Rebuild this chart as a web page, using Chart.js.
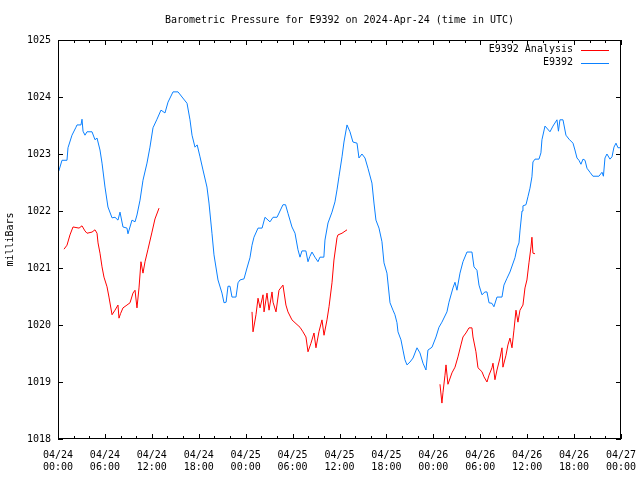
<!DOCTYPE html>
<html>
<head>
<meta charset="utf-8">
<title>Barometric Pressure E9392</title>
<script src="https://cdn.jsdelivr.net/npm/chart.js@4"></script>
<style>
  body { margin: 0; background: #fff; }
  canvas { display: block; }
</style>
</head>
<body>
<canvas id="pressureChart" width="640" height="480"></canvas>
<script>
// hours since 04/24 00:00 UTC, pressure in mBar

const xTickDates = ['04/24', '04/24', '04/24', '04/24', '04/25', '04/25', '04/25',
                    '04/25', '04/26', '04/26', '04/26', '04/26', '04/27'];
const xTickTimes = ['00:00', '06:00', '12:00', '18:00', '00:00', '06:00', '12:00',
                    '18:00', '00:00', '06:00', '12:00', '18:00', '00:00'];

const stationHours = [
  0.1, 0.51, 1.15, 1.28, 1.79, 2.3, 2.43, 2.94, 3.07, 3.2, 3.45, 3.71, 4.35, 4.73, 4.99,
  5.37, 5.63, 6.01, 6.39, 6.91, 7.29, 7.67, 7.93, 8.31, 8.82, 8.95, 9.46, 9.85, 10.1,
  10.49, 10.87, 11.38, 11.76, 12.15, 12.66, 13.17, 13.68, 14.07, 14.71, 15.35, 15.86,
  16.5, 16.88, 17.14, 17.52, 17.8, 18.16, 18.54, 19.05, 19.31, 19.69, 19.95, 20.46,
  20.97, 21.23, 21.5, 21.74, 22.0, 22.25, 22.76, 23.02, 23.27, 23.79, 24.17, 24.55,
  24.81, 25.06, 25.58, 26.1, 26.47, 27.11, 27.5, 28.01, 28.77, 29.1, 29.41, 29.92,
  30.31, 30.69, 30.95, 31.2, 31.7, 31.97, 32.2, 32.48, 32.86, 33.25, 33.5, 34.0, 34.14,
  34.53, 35.04, 35.42, 35.68, 35.93, 36.32, 36.57, 36.96, 37.34, 37.72, 38.24, 38.49,
  38.87, 39.26, 39.64, 40.15, 40.41, 40.66, 41.05, 41.43, 41.69, 42.07, 42.46, 42.84,
  43.09, 43.35, 43.48, 43.86, 44.12, 44.37, 44.63, 45.01, 45.4, 45.91, 46.29, 46.68,
  47.06, 47.31, 47.83, 48.34, 48.72, 49.1, 49.74, 50.0, 50.51, 50.77, 51.02, 51.41,
  51.79, 52.3, 52.7, 52.94, 53.2, 53.58, 53.84, 54.22, 54.6, 54.86, 55.12, 55.5, 55.75,
  56.14, 56.78, 57.03, 57.42, 57.8, 58.44, 58.7, 58.95, 59.08, 59.34, 59.46, 59.85,
  60.1, 60.36, 60.61, 60.74, 61.0, 61.51, 61.76, 61.89, 62.28, 62.92, 63.3, 63.81,
  64.0, 64.19, 64.58, 64.96, 65.35, 65.86, 66.11, 66.37, 66.62, 66.88, 67.14, 67.4,
  67.65, 68.03, 68.41, 69.18, 69.57, 69.75, 69.95, 70.2, 70.59, 70.85, 71.1, 71.36,
  71.61, 71.87
];
const stationValues = [
  1022.70, 1022.89, 1022.89, 1023.11, 1023.33, 1023.47, 1023.51, 1023.51, 1023.61,
  1023.40, 1023.33, 1023.39, 1023.39, 1023.25, 1023.28, 1023.07, 1022.84, 1022.42,
  1022.07, 1021.88, 1021.89, 1021.84, 1021.98, 1021.72, 1021.70, 1021.60, 1021.84,
  1021.81, 1021.93, 1022.19, 1022.54, 1022.84, 1023.12, 1023.46, 1023.61, 1023.77,
  1023.72, 1023.91, 1024.09, 1024.09, 1024.00, 1023.89, 1023.60, 1023.33, 1023.12,
  1023.16, 1022.95, 1022.72, 1022.42, 1022.14, 1021.61, 1021.23, 1020.79, 1020.56,
  1020.39, 1020.40, 1020.68, 1020.68, 1020.49, 1020.49, 1020.74, 1020.79, 1020.81,
  1021.00, 1021.18, 1021.40, 1021.54, 1021.70, 1021.70, 1021.89, 1021.81, 1021.89,
  1021.89, 1022.11, 1022.11, 1021.96, 1021.72, 1021.61, 1021.32, 1021.19, 1021.30,
  1021.30, 1021.11, 1021.20, 1021.28, 1021.19, 1021.11, 1021.19, 1021.19, 1021.49,
  1021.79, 1021.98, 1022.16, 1022.37, 1022.60, 1022.95, 1023.21, 1023.51, 1023.39,
  1023.21, 1023.19, 1022.93, 1023.00, 1022.93, 1022.75, 1022.49, 1022.14, 1021.84,
  1021.70, 1021.46, 1021.09, 1020.91, 1020.39, 1020.26, 1020.18, 1020.04, 1019.88,
  1019.74, 1019.56, 1019.39, 1019.30, 1019.35, 1019.42, 1019.60, 1019.51, 1019.33,
  1019.21, 1019.56, 1019.61, 1019.79, 1019.96, 1020.05, 1020.23, 1020.40, 1020.65,
  1020.75, 1020.61, 1020.91, 1021.11, 1021.28, 1021.28, 1021.28, 1021.02, 1020.96,
  1020.70, 1020.53, 1020.58, 1020.58, 1020.39, 1020.38, 1020.32, 1020.49, 1020.49,
  1020.70, 1020.82, 1020.93, 1021.18, 1021.35, 1021.44, 1021.65, 1022.00, 1022.09,
  1022.11, 1022.25, 1022.40, 1022.60, 1022.86, 1022.91, 1022.91, 1023.02, 1023.25,
  1023.49, 1023.39, 1023.49, 1023.60, 1023.40, 1023.60, 1023.60, 1023.33, 1023.26,
  1023.19, 1023.07, 1022.93, 1022.89, 1022.82, 1022.91, 1022.89, 1022.75, 1022.68,
  1022.61, 1022.61, 1022.68, 1022.61, 1022.93, 1023.00, 1022.91, 1022.95, 1023.12,
  1023.19, 1023.11, 1023.11
];

// analysis series, null marks a gap between runs
const analysisHours = [
  0.77, 1.15, 1.53, 1.92, 2.69, 3.07, 3.45, 3.71, 4.35, 4.73, 4.99, 5.12, 5.37, 5.63,
  5.88, 6.27, 6.52, 6.91, 7.29, 7.67, 7.8, 8.0, 8.31, 8.82, 9.21, 9.59, 9.85, 10.1,
  10.36, 10.61, 10.87, 11.13, 11.51, 12.02, 12.4, 12.92,
  18.0,
  24.81, 24.94, 25.32, 25.58, 25.84, 26.22, 26.35, 26.73, 26.99, 27.37, 27.5, 27.88,
  28.26, 28.77, 29.15, 29.41, 29.92, 30.31, 30.95, 31.33, 31.71, 31.97, 32.35, 32.74,
  32.99, 33.37, 33.76, 34.02, 34.4, 34.66, 35.04, 35.29, 35.68, 35.8, 36.32, 36.96,
  42.0,
  48.85, 49.1, 49.23, 49.49, 49.62, 49.87, 50.38, 50.77, 51.15, 51.53, 51.79, 52.17,
  52.56, 52.94, 53.07, 53.45, 53.71, 54.22, 54.48, 54.86, 55.12, 55.5, 55.63, 55.88,
  56.14, 56.52, 56.78, 56.9, 57.29, 57.54, 57.8, 58.06, 58.31, 58.57, 58.82, 59.08,
  59.46, 59.72, 59.97, 60.23, 60.49, 60.61, 60.74, 61.0
];
const analysisValues = [
  1021.33, 1021.40, 1021.58, 1021.72, 1021.70, 1021.74, 1021.65, 1021.61, 1021.63,
  1021.67, 1021.61, 1021.44, 1021.26, 1021.02, 1020.84, 1020.67, 1020.49, 1020.18,
  1020.26, 1020.35, 1020.12, 1020.20, 1020.30, 1020.35, 1020.39, 1020.56, 1020.61,
  1020.30, 1020.65, 1021.11, 1020.91, 1021.11, 1021.33, 1021.63, 1021.86, 1022.05,
  null,
  1020.23, 1019.88, 1020.18, 1020.47, 1020.30, 1020.53, 1020.23, 1020.56, 1020.26,
  1020.58, 1020.40, 1020.23, 1020.61, 1020.70, 1020.35, 1020.23, 1020.09, 1020.04,
  1019.96, 1019.88, 1019.79, 1019.53, 1019.68, 1019.86, 1019.60, 1019.88, 1020.09,
  1019.82, 1020.09, 1020.32, 1020.74, 1021.14, 1021.53, 1021.58, 1021.61, 1021.67,
  null,
  1018.96, 1018.63, 1018.81, 1019.12, 1019.30, 1018.96, 1019.16, 1019.26, 1019.44,
  1019.65, 1019.79, 1019.86, 1019.95, 1019.95, 1019.79, 1019.53, 1019.25, 1019.18,
  1019.09, 1019.00, 1019.12, 1019.25, 1019.33, 1019.04, 1019.21, 1019.42, 1019.60,
  1019.26, 1019.47, 1019.65, 1019.77, 1019.60, 1019.91, 1020.26, 1020.05, 1020.26,
  1020.35, 1020.65, 1020.79, 1021.09, 1021.37, 1021.54, 1021.26, 1021.25
];

const MONO = "'DejaVu Sans Mono', 'Liberation Mono', monospace";

function toPoints(hours, values) {
  return hours.map((h, i) => ({ x: h, y: values[i] }));
}

// gnuplot style: closed frame with inward ticks on all four sides, legend top right
const gnuplotFrame = {
  id: 'gnuplotFrame',
  afterDraw(chart) {
    const { ctx, chartArea: a, scales: { x, y } } = chart;
    ctx.save();
    ctx.strokeStyle = '#000';
    ctx.lineWidth = 1;
    ctx.strokeRect(a.left + 0.5, a.top + 0.5, a.right - a.left - 1, a.bottom - a.top - 1);

    ctx.beginPath();
    x.ticks.forEach(t => {
      const px = Math.round(x.getPixelForValue(t.value)) + 0.5;
      const len = t.value % 6 === 0 ? 5 : 3;
      ctx.moveTo(px, a.bottom); ctx.lineTo(px, a.bottom - len);
      ctx.moveTo(px, a.top); ctx.lineTo(px, a.top + len);
    });
    y.ticks.forEach(t => {
      const py = Math.round(y.getPixelForValue(t.value)) + 0.5;
      ctx.moveTo(a.left, py); ctx.lineTo(a.left + 5, py);
      ctx.moveTo(a.right, py); ctx.lineTo(a.right - 5, py);
    });
    ctx.stroke();

    // legend
    ctx.font = '10px ' + MONO;
    ctx.textAlign = 'right';
    ctx.textBaseline = 'middle';
    ctx.fillStyle = '#000';
    chart.data.datasets.forEach((ds, i) => {
      const ly = a.top + 9.5 + i * 13;
      ctx.fillText(ds.label, a.right - 48, ly);
      ctx.strokeStyle = ds.borderColor;
      ctx.beginPath();
      ctx.moveTo(a.right - 40, Math.round(ly) + 0.5);
      ctx.lineTo(a.right - 12, Math.round(ly) + 0.5);
      ctx.stroke();
    });
    ctx.restore();
  }
};

const ctx = document.getElementById('pressureChart').getContext('2d');
const pressureChart = new Chart(ctx, {
  type: 'line',
  data: {
    datasets: [{
      label: 'E9392 Analysis',
      data: toPoints(analysisHours, analysisValues),
      borderColor: '#ff0000',
      borderWidth: 1,
      pointRadius: 0,
      tension: 0,
      spanGaps: false
    }, {
      label: 'E9392',
      data: toPoints(stationHours, stationValues),
      borderColor: '#0a80ff',
      borderWidth: 1,
      pointRadius: 0,
      tension: 0
    }]
  },
  options: {
    responsive: false,
    animation: false,
    devicePixelRatio: 1,
    layout: { padding: { left: 0, right: 19, top: 0, bottom: 0 } },
    plugins: {
      legend: { display: false },
      tooltip: { enabled: false },
      title: {
        display: true,
        fullSize: false,
        text: 'Barometric Pressure for E9392 on 2024-Apr-24 (time in UTC)',
        color: '#000',
        font: { family: MONO, size: 10, weight: 'normal' },
        padding: { top: 14, bottom: 14 }
      }
    },
    scales: {
      x: {
        type: 'linear',
        min: 0,
        max: 72,
        grid: { display: false, drawTicks: false },
        border: { display: false },
        afterFit(scale) {
          scale.height = 41;
          scale.paddingLeft = 0;
          scale.paddingRight = 0;
        },
        ticks: {
          stepSize: 2,
          autoSkip: false,
          maxRotation: 0,
          padding: 10,
          color: '#000',
          font: { family: MONO, size: 10 },
          callback(value) {
            if (value % 6 !== 0) return '';
            const i = value / 6;
            return [xTickDates[i], xTickTimes[i]];
          }
        }
      },
      y: {
        min: 1018,
        max: 1025,
        grid: { display: false, drawTicks: false },
        border: { display: false },
        afterFit(scale) {
          scale.width = 58;
          scale.paddingTop = 0;
          scale.paddingBottom = 0;
        },
        ticks: {
          stepSize: 1,
          padding: 7,
          color: '#000',
          font: { family: MONO, size: 10 },
          callback: value => String(value)
        },
        title: {
          display: true,
          text: 'milliBars',
          color: '#000',
          font: { family: MONO, size: 10 },
          padding: { top: 4, bottom: 0 }
        }
      }
    }
  },
  plugins: [gnuplotFrame]
});
</script>
</body>
</html>
